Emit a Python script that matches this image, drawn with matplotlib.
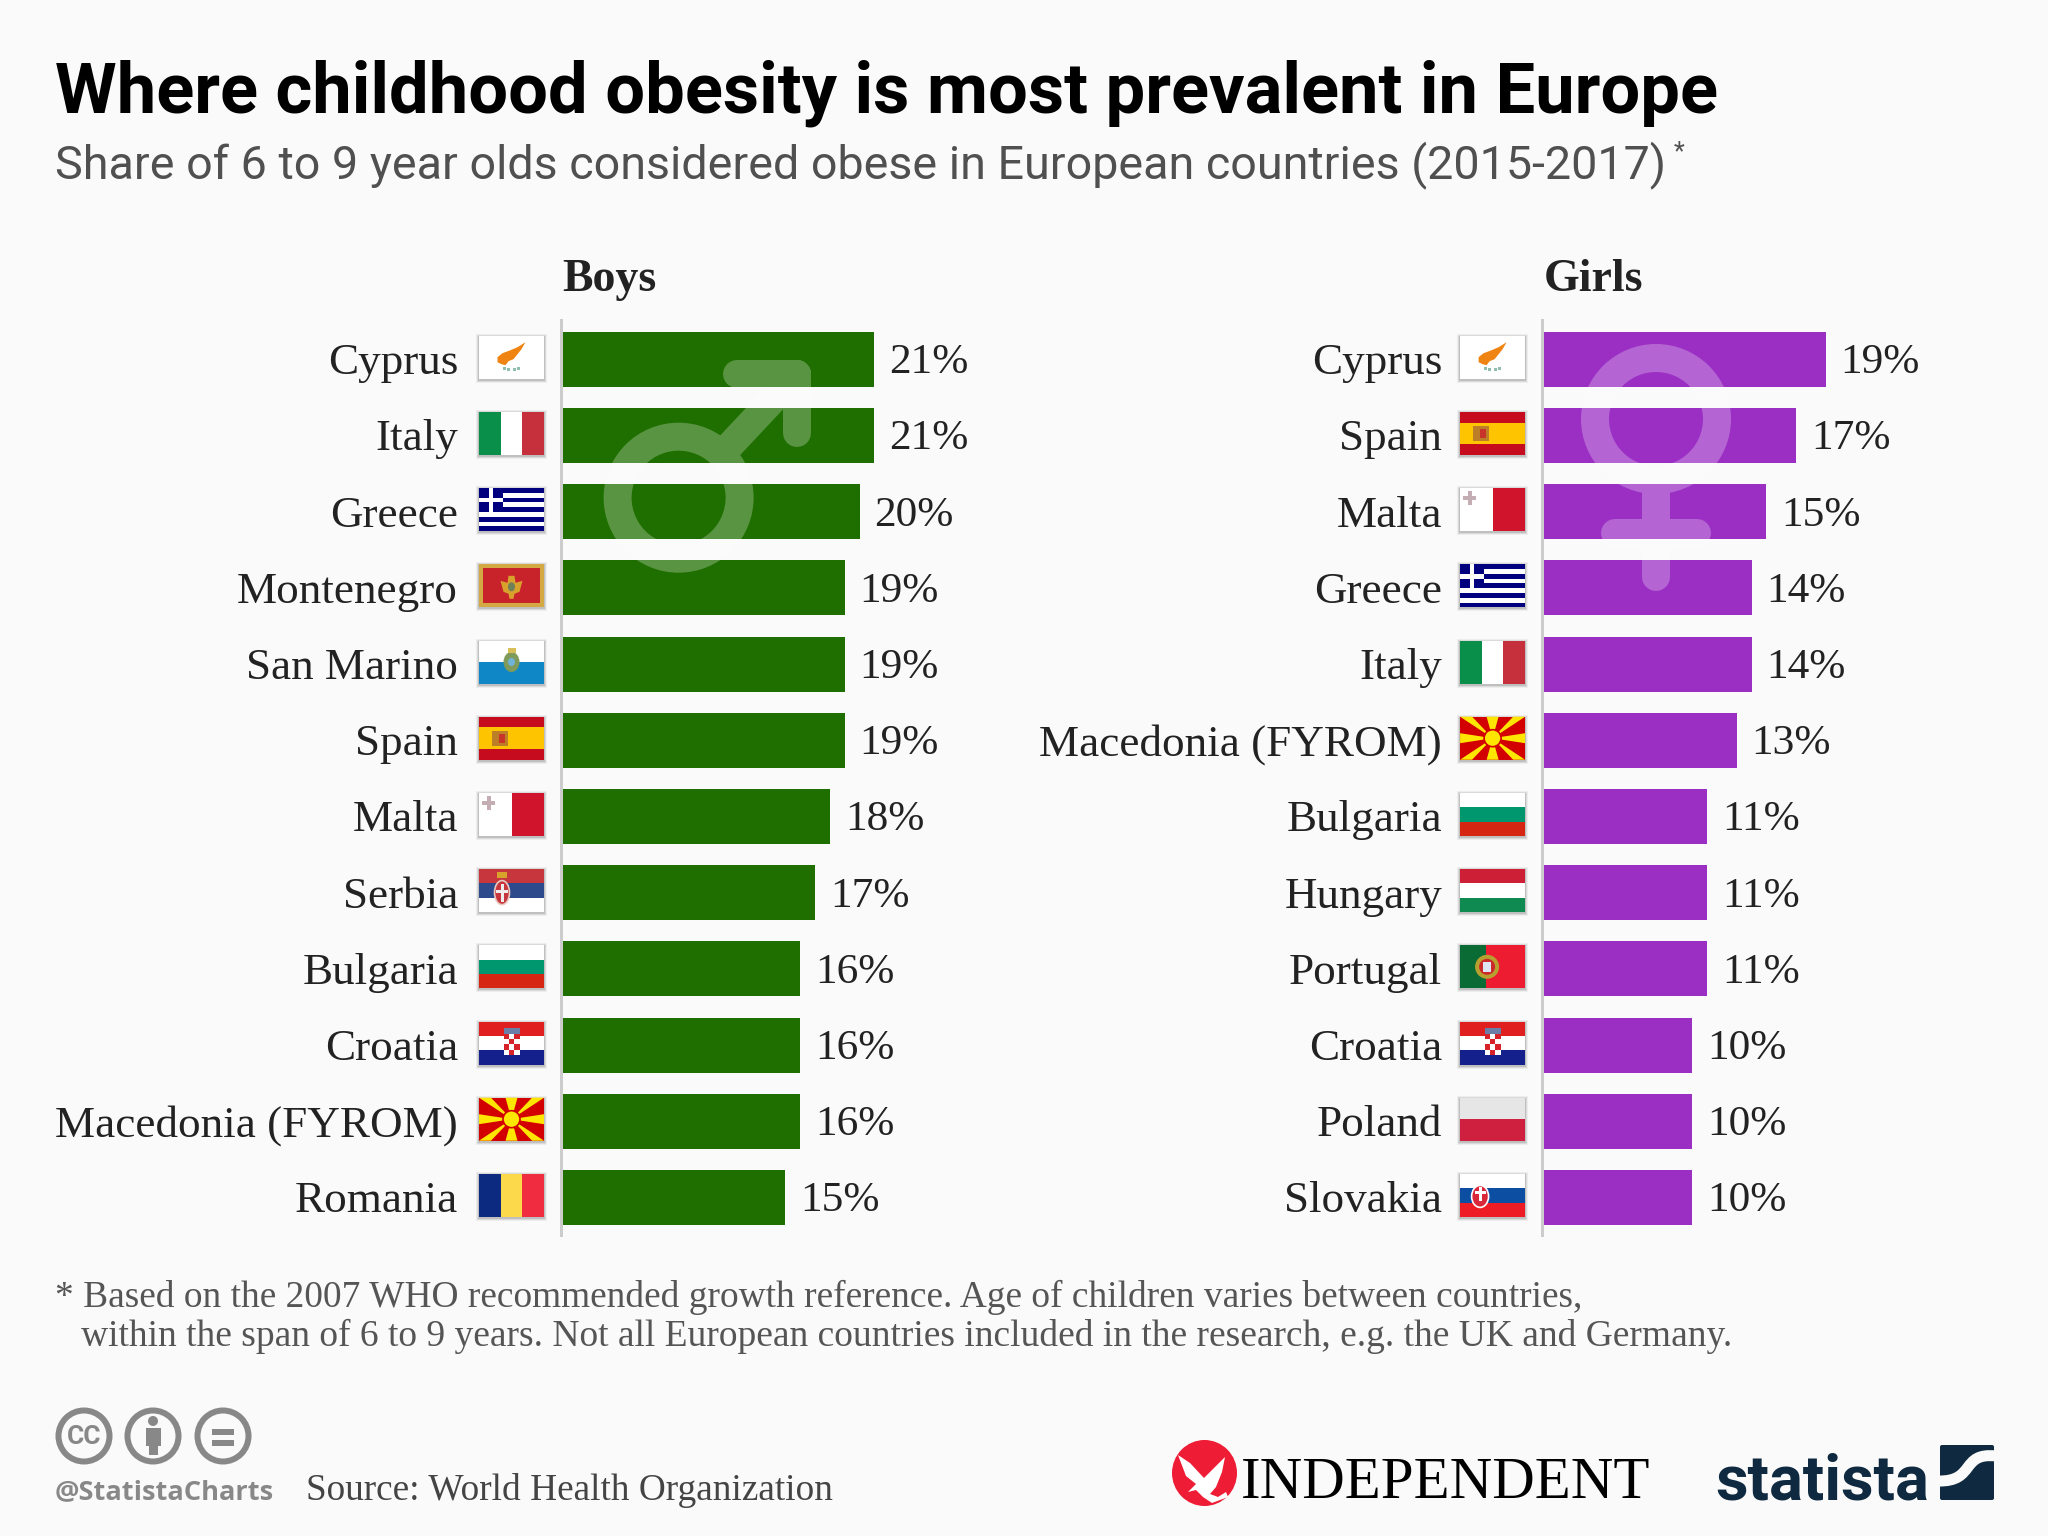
#!/usr/bin/env python3
# Childhood obesity in Europe, Statista / Independent style chart
import matplotlib
matplotlib.use("Agg")
from matplotlib import pyplot as plt
from matplotlib import patches as mpatches
from matplotlib.path import Path

boysCountries = ["Cyprus", "Italy", "Greece", "Montenegro", "San Marino", "Spain",
                 "Malta", "Serbia", "Bulgaria", "Croatia", "Macedonia (FYROM)", "Romania"]
boysValues = [21, 21, 20, 19, 19, 19, 18, 17, 16, 16, 16, 15]
girlsCountries = ["Cyprus", "Spain", "Malta", "Greece", "Italy", "Macedonia (FYROM)",
                  "Bulgaria", "Hungary", "Portugal", "Croatia", "Poland", "Slovakia"]
girlsValues = [19, 17, 15, 14, 14, 13, 11, 11, 11, 10, 10, 10]

titleText = "Where childhood obesity is most prevalent in Europe"
subtitleText = "Share of 6 to 9 year olds considered obese in European countries (2015-2017)"
noteLine1 = "* Based on the 2007 WHO recommended growth reference. Age of children varies between countries,"
noteLine2 = "within the span of 6 to 9 years. Not all European countries included in the research, e.g. the UK and Germany."
sourceText = "Source: World Health Organization"

W, H = 2048, 1536
BG = "#fafafa"
GREEN = "#1f6f00"
PURPLE = "#9b2fc4"
SERIF = "Liberation Serif"
PX = 72 / 100  # points per pixel at dpi 100

# plain stripe flags: (direction, [colours], [sizes])
stripeFlags = {
    "Italy": ("v", ["#0a8f4a", "#ffffff", "#c62f3c"], [1, 1, 1]),
    "Romania": ("v", ["#0b2a80", "#fcd94a", "#f02c40"], [1, 1, 1]),
    "Malta": ("v", ["#ffffff", "#cf142b"], [1, 1]),
    "Portugal": ("v", ["#0b6b35", "#ee1c30"], [2, 3]),
    "San Marino": ("h", ["#ffffff", "#0f87c7"], [1, 1]),
    "Spain": ("h", ["#c60b1e", "#ffc400", "#c60b1e"], [1, 2, 1]),
    "Serbia": ("h", ["#c6363c", "#2c4a8c", "#ffffff"], [1, 1, 1]),
    "Bulgaria": ("h", ["#ffffff", "#00966e", "#d62612"], [1, 1, 1]),
    "Croatia": ("h", ["#e02020", "#ffffff", "#14208c"], [1, 1, 1]),
    "Hungary": ("h", ["#cd1f35", "#ffffff", "#0f8a50"], [1, 1, 1]),
    "Poland": ("h", ["#e6e6e6", "#cf2040"], [1, 1]),
    "Slovakia": ("h", ["#ffffff", "#0b4ea2", "#ee1c25"], [1, 1, 1]),
    "Cyprus": ("h", ["#ffffff"], [1]),
    "Montenegro": ("h", ["#d4a843"], [1]),
    "Greece": ("h", ["#00007f", "#ffffff"] * 4 + ["#00007f"], [1] * 9),
    "Macedonia (FYROM)": ("h", ["#d20000"], [1]),
}

plt.rcParams["font.family"] = "Roboto"
fig = plt.figure(figsize=(W / 100, H / 100), dpi=100, facecolor=BG)

over = fig.add_axes([0, 0, 1, 1], zorder=5)
over.set_xlim(0, W)
over.set_ylim(H, 0)
over.axis("off")
over.patch.set_alpha(0)


def rect(x, y, w, h, color, **kw):
    p = mpatches.Rectangle((x, y), w, h, facecolor=color, edgecolor="none", **kw)
    over.add_patch(p)
    return p


def emblem(name, x, y, w, h):
    cx, cy = x + w / 2, y + h / 2
    if name == "Cyprus":
        pts = [(-14, 1), (-9, -3), (-1, -6), (6, -9), (14, -14), (10, -7), (6, -2), (2, 3),
               (-3, 5), (-6, 9), (-10, 8), (-14, 6)]
        over.add_patch(mpatches.Polygon([(cx + a, cy - 1 + b) for a, b in pts], fc="#ef8412", ec="none"))
        for dx in (-7, -3, 3, 7):
            rect(cx + dx - 1.5, cy + 11 + abs(dx) * -0.2, 3, 3, "#8fbfae")
    elif name == "Greece":
        rect(x, y, h * 5 / 9, h * 5 / 9, "#00007f")
        rect(x, y + h * 2 / 9, h * 5 / 9, h / 9, "#ffffff")
        rect(x + h * 2 / 9, y, h / 9, h * 5 / 9, "#ffffff")
    elif name == "Montenegro":
        rect(x + 4, y + 4, w - 8, h - 8, "#c8232b")
        over.add_patch(mpatches.Polygon(
            [(cx - 11, cy - 5), (cx - 4, cy - 3), (cx - 3, cy - 10), (cx + 3, cy - 10), (cx + 4, cy - 3),
             (cx + 11, cy - 5), (cx + 8, cy + 6), (cx + 3, cy + 8), (cx + 2, cy + 13), (cx - 2, cy + 13),
             (cx - 3, cy + 8), (cx - 8, cy + 6)], fc="#d8a12c", ec="none"))
        over.add_patch(mpatches.Ellipse((cx, cy + 1), 7, 9, fc="#6f7f5a", ec="none"))
    elif name == "San Marino":
        over.add_patch(mpatches.Ellipse((cx, cy), 16, 20, fc="#7f9a5a", ec="none"))
        over.add_patch(mpatches.Ellipse((cx, cy), 7, 8, fc="#6fb3d8", ec="none"))
        rect(cx - 4, cy - 14, 8, 5, "#d8bf5a")
    elif name == "Spain":
        rect(x + 13, cy - 7, 16, 15, "#b5782d", alpha=0.9)
        rect(x + 20, cy - 4, 6, 9, "#c9342a")
    elif name == "Malta":
        rect(x + 3, y + 8, 13, 4, "#c4aeb4")
        rect(x + 7.5, y + 3, 4, 14, "#c4aeb4")
    elif name == "Serbia":
        over.add_patch(mpatches.Ellipse((x + 23, cy + 2), 15, 24, fc="#c6363c", ec="#e8c8c0", lw=1.2))
        rect(x + 21.5, cy - 7, 3, 18, "#eeeeee")
        rect(x + 17, cy - 1, 12, 3, "#eeeeee")
        rect(x + 18, y + 3, 10, 6, "#d8a12c")
    elif name == "Croatia":
        rect(cx - 8, y + 6, 16, 6, "#6a7fa8")
        for r in range(4):
            for c in range(3):
                col = "#d8222a" if (r + c) % 2 == 0 else "#ffffff"
                rect(cx - 8 + c * 5.4, y + 12 + r * 5.4, 5.4, 5.4, col)
    elif name == "Macedonia (FYROM)":
        x1, y1 = x + w, y + h
        spikes = [((x, y), (x + 12, y)), ((x1, y), (x1 - 12, y)), ((x, y1), (x + 12, y1)),
                  ((x1, y1), (x1 - 12, y1)),
                  ((cx - 6, y), (cx + 6, y)), ((cx - 6, y1), (cx + 6, y1)),
                  ((x, cy - 5), (x, cy + 5)), ((x1, cy - 5), (x1, cy + 5))]
        for a, b in spikes:
            over.add_patch(mpatches.Polygon([(cx, cy), a, b], fc="#ffe600", ec="none"))
        over.add_patch(mpatches.Circle((cx, cy), 8.5, fc="#ffe600", ec="#d20000", lw=1.2))
    elif name == "Portugal":
        over.add_patch(mpatches.Circle((x + 27, cy), 12, fc="#b8a030", ec="none"))
        over.add_patch(mpatches.Circle((x + 27, cy), 8, fc="#cc2a2a", ec="none"))
        rect(x + 23, cy - 5, 8, 10, "#dde6f2")
    elif name == "Slovakia":
        over.add_patch(mpatches.Ellipse((x + 20, cy + 1), 17, 22, fc="#d9283a", ec="#ffffff", lw=1.2))
        rect(x + 18.5, cy - 8, 3, 14, "#ffffff")
        rect(x + 14.5, cy - 4, 11, 2.5, "#ffffff")


def flag(name, x, y, w=65, h=43):
    # soft shadow, then stripes, then any emblem on top
    for off, a in ((3, 0.05), (2, 0.08), (1, 0.12)):
        rect(x - off, y - off + 1, w + 2 * off, h + 2 * off, "#000000", alpha=a)
    direction, colors, sizes = stripeFlags[name]
    total = sum(sizes)
    pos = 0
    for c, s in zip(colors, sizes):
        if direction == "h":
            rect(x, y + h * pos / total, w, h * s / total, c)
        else:
            rect(x + w * pos / total, y, w * s / total, h, c)
        pos += s
    emblem(name, x, y, w, h)


def panel(countries, values, left, color, header, labelGap):
    # one axes per panel, 14.85 px per percentage point
    top, bottom = 320, 1235
    firstY, pitch = 359.2, 76.2
    unit = 14.85
    ax = fig.add_axes([left / W, 1 - bottom / H, 30 * unit / W, (bottom - top) / H])
    ax.patch.set_alpha(0)
    ax.barh(range(len(values)), values, height=55 / pitch, color=color, linewidth=0)
    ax.set_xlim(0, 30)
    ax.set_ylim((bottom - firstY) / pitch, (top - firstY) / pitch)
    ax.set_xticks([])
    ax.set_yticks([])
    for s in ("top", "right", "bottom"):
        ax.spines[s].set_visible(False)
    ax.spines["left"].set_color("#cccccc")
    ax.spines["left"].set_linewidth(3 * PX)
    ax.spines["left"].set_position(("outward", 1.5 * PX))

    for i, (name, v) in enumerate(zip(countries, values)):
        ax.annotate(f"{v}%", xy=(v, i), xytext=(15 * PX, -14 * PX), textcoords="offset points",
                    ha="left", va="baseline", fontsize=31.2, family=SERIF, color="#222222")
        ax.annotate(name, xy=(0, i), xytext=(-labelGap * PX, -15 * PX), textcoords="offset points",
                    ha="right", va="baseline", fontsize=32.5, family=SERIF, color="#222222")
        cy = firstY + pitch * i
        flag(name, left - 83.5, cy - 23.5)
    over.text(left, 291, header, fontsize=33, family=SERIF, weight="bold", color="#222222",
              ha="left", va="baseline")


panel(boysCountries, boysValues, 562.5, GREEN, "Boys", 104.5)
panel(girlsCountries, girlsValues, 1543.6, PURPLE, "Girls", 101.5)

# gender watermarks, one stroked path each so overlaps don't double the alpha
maleCx, maleCy = 678.6, 497.7
malePath = Path.make_compound_path(
    Path.circle((maleCx, maleCy), 61),
    Path([(722, 454), (797, 374)], [Path.MOVETO, Path.LINETO]),
    Path([(737, 374), (797, 374), (797, 433)], [Path.MOVETO, Path.LINETO, Path.LINETO]),
)
femaleCx, femaleCy = 1656, 419
femalePath = Path.make_compound_path(
    Path.circle((femaleCx, femaleCy), 61),
    Path([(femaleCx, 480), (femaleCx, 577)], [Path.MOVETO, Path.LINETO]),
    Path([(1615, 533), (1697, 533)], [Path.MOVETO, Path.LINETO]),
)
for p in (malePath, femalePath):
    over.add_patch(mpatches.PathPatch(p, facecolor="none", edgecolor=(1, 1, 1, 0.26),
                                      linewidth=28 * PX, capstyle="round", joinstyle="round"))

# headings
over.text(55, 112.7, titleText, fontsize=50.8, weight="bold", color="#000000", va="baseline")
over.text(55, 178, subtitleText, fontsize=33.6, color="#505050", va="baseline")
over.text(1674, 159, "*", fontsize=18, color="#505050", va="baseline")

# footnote
over.text(55, 1307, noteLine1, fontsize=26.9, family=SERIF, color="#555555", va="baseline")
over.text(81, 1346, noteLine2, fontsize=27, family=SERIF, color="#555555", va="baseline")

# cc badges
GREY = "#888888"
for cx in (84, 153, 223):
    over.add_patch(mpatches.Circle((cx, 1436), 25.5, fc="none", ec=GREY, lw=6 * PX))
over.text(84, 1437, "CC", fontsize=19, weight="bold", color=GREY, ha="center", va="center")
over.add_patch(mpatches.Circle((153, 1421), 5, fc=GREY, ec="none"))
rect(145.5, 1428, 15, 18, GREY)
rect(148.5, 1444, 9, 11, GREY)
rect(212, 1429, 22, 5.5, GREY)
rect(212, 1440, 22, 5.5, GREY)
over.text(55, 1499, "@StatistaCharts", fontsize=19.6, family="Open Sans", weight="bold", color=GREY, va="baseline")
over.text(306, 1500, sourceText, fontsize=26.8, family=SERIF, color="#444444", va="baseline")

# independent logo
over.add_patch(mpatches.Ellipse((1204.5, 1473), 65, 66, fc="#ee1c35", ec="none"))
eagle = [(1178, 1455), (1190, 1463), (1204, 1478), (1212, 1470), (1225, 1457), (1222, 1472),
         (1216, 1487), (1210, 1494), (1218, 1497), (1226, 1492), (1228, 1497), (1212, 1503),
         (1203, 1497), (1196, 1490), (1188, 1492), (1196, 1484), (1186, 1476)]
over.add_patch(mpatches.Polygon(eagle, fc="#ffffff", ec="none"))
over.text(1241, 1498, "INDEPENDENT", fontsize=42.4, family=SERIF, color="#000000", va="baseline")

# statista logo
NAVY = "#0f2a40"
over.text(1715, 1499, "statista", fontsize=45.5, weight="bold", color=NAVY, va="baseline")
over.add_patch(mpatches.FancyBboxPatch((1942, 1447), 50, 51, boxstyle="round,pad=2,rounding_size=2",
                                       fc=NAVY, ec="none"))
wave = Path([(1996, 1456), (1960, 1452), (1976, 1482), (1938, 1481)],
            [Path.MOVETO, Path.CURVE4, Path.CURVE4, Path.CURVE4])
over.add_patch(mpatches.PathPatch(wave, fc="none", ec=BG, lw=11 * PX))

fig.savefig("out.png", dpi=100, facecolor=BG)
